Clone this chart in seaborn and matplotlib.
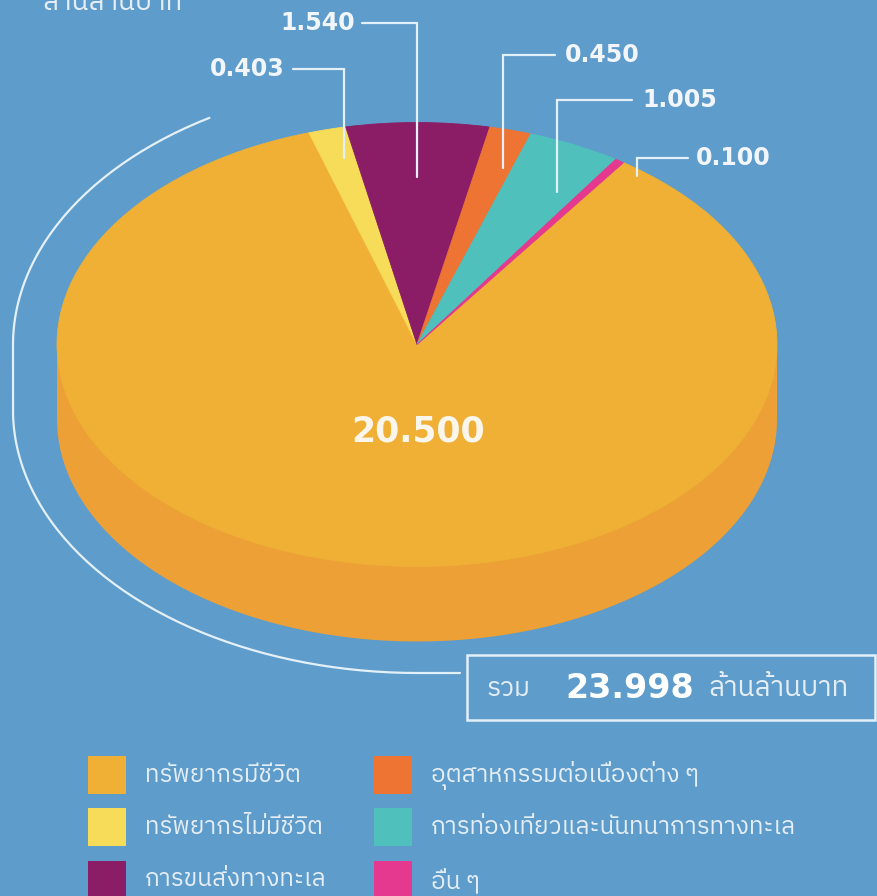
import numpy as np
import matplotlib
matplotlib.use("Agg")
import matplotlib.pyplot as plt
import seaborn as sns
from matplotlib import font_manager
from matplotlib.ft2font import FT2Font
from matplotlib.patches import Rectangle

# ---- data (ล้านล้านบาท) ----
categories = [
    "ทรัพยากรมีชีวิต",
    "ทรัพยากรไม่มีชีวิต",
    "การขนส่งทางทะเล",
    "อุตสาหกรรมต่อเนื่องต่าง ๆ",
    "การท่องเที่ยวและนันทนาการทางทะเล",
    "อื่น ๆ",
]
values = [20.500, 0.403, 1.540, 0.450, 1.005, 0.100]
total_value = 23.998
unit_label = "ล้านล้านบาท"
total_prefix = "รวม"

top_colors = ["#EFB035", "#F7DC5A", "#8B1D66", "#EE7434", "#50C0BC", "#E4398F"]
side_colors = ["#ECA036", "#E9C94E", "#6E1550", "#D8642A", "#43A8A4", "#C92F7D"]
BG = "#5D9CCB"
LINE = "#E4F0F8"
TXT = "#E6EEF5"

# ---- font with Thai glyphs (fallback to DejaVu) ----
def find_thai_font():
    seen = set()
    flist = sorted(font_manager.fontManager.ttflist,
                   key=lambda f: 0 if "thai" in f.name.lower() else 1)
    for f in flist:
        if f.fname in seen:
            continue
        seen.add(f.fname)
        try:
            if 0x0E01 in FT2Font(f.fname).get_charmap():
                return f.name
        except Exception:
            pass
    return None

sns.set_theme(style="white")
thai = find_thai_font()
families = ([thai] if thai else []) + ["DejaVu Sans"]
plt.rcParams["font.family"] = families

W, H = 878, 896
fig = plt.figure(figsize=(W / 100, H / 100), dpi=100)
fig.patch.set_facecolor(BG)

# pie axes: unit circle -> ellipse (a=360px, b=222px) centred at (417, 344.5)
CX, CY, A, B = 417, 344.5, 360, 222
THICK = 75 / B
ax = fig.add_axes([0, 0, 1, 1])
ax.set_facecolor("none")

start = 55
ax.pie(values, colors=side_colors, center=(0, -THICK), radius=1,
       startangle=start, counterclock=False,
       wedgeprops=dict(linewidth=0))
ax.bar(0, THICK, width=2, bottom=-THICK, color=side_colors[0], linewidth=0)
ax.pie(values, colors=top_colors, center=(0, 0), radius=1,
       startangle=start, counterclock=False,
       wedgeprops=dict(linewidth=0.6))
for w in ax.patches[-len(values):]:
    w.set_edgecolor(w.get_facecolor())
ax.set_aspect("auto")
ax.set_xlim(-CX / A, (W - CX) / A)
ax.set_ylim((CY - H) / B, CY / B)
ax.axis("off")

# overlay axes in pixel coordinates for labels and decoration
deco = fig.add_axes([0, 0, 1, 1])
deco.set_facecolor("none")
deco.set_xlim(0, W)
deco.set_ylim(H, 0)
deco.axis("off")

# big slice value
deco.text(418, 432, f"{values[0]:.3f}", color="#FBF6EC", fontsize=25,
          fontweight="bold", ha="center", va="center", family="DejaVu Sans")

# leader lines for the small slices: (x, y_bottom, y_top, x_end, text_x, ha)
leaders = [
    (344, 158, 69, 293, 285, "right"),
    (417, 177, 23, 362, 355, "right"),
    (503, 168, 55, 555, 565, "left"),
    (557, 192, 100, 632, 642, "left"),
    (637, 176, 158, 688, 696, "left"),
]
for v, (lx, yb, yt, xe, tx, ha) in zip(values[1:], leaders):
    deco.plot([lx, lx, xe], [yb, yt, yt], color=LINE, lw=1.6,
              solid_joinstyle="miter")
    deco.text(tx, yt, f"{v:.3f}", color="#F2F6FA", fontsize=17,
              fontweight="bold", ha=ha, va="center", family="DejaVu Sans")

# surrounding arc on the left
t1 = np.radians(np.linspace(121, 180, 60))
t2 = np.radians(np.linspace(180, 270, 90))
arc_x = np.concatenate([418 + 405 * np.cos(t1), 418 + 405 * np.cos(t2), [460]])
arc_y = np.concatenate([345 - 265 * np.sin(t1), 410 - 263 * np.sin(t2), [673]])
deco.plot(arc_x, arc_y, color=LINE, lw=1.6)

# total box
deco.add_patch(Rectangle((467, 655), 408, 65, fill=False, edgecolor=LINE, lw=1.8))
deco.text(487, 688, total_prefix, color=TXT, fontsize=19,
          ha="left", va="center")
deco.text(565, 688, f"{total_value:.3f}", color="#FFFFFF", fontsize=24,
          fontweight="bold", ha="left", va="center", family="DejaVu Sans")
deco.text(708, 688, unit_label, color=TXT, fontsize=20,
          ha="left", va="center")

# clipped unit caption at top-left (cut by the top edge, as in the source)
deco.text(42, 2, unit_label, color=TXT, fontsize=20,
          ha="left", va="center")

# legend
col_x = [88, 374]
row_y = [756, 808, 861]
for i, (label, c) in enumerate(zip(categories, top_colors)):
    px, py = col_x[i // 3], row_y[i % 3]
    deco.add_patch(Rectangle((px, py), 38, 38, color=c, lw=0))
    deco.text(px + 57, py + 19, label, color=TXT, fontsize=17.5,
              ha="left", va="center")

fig.savefig("out.png", dpi=100, facecolor=BG)
